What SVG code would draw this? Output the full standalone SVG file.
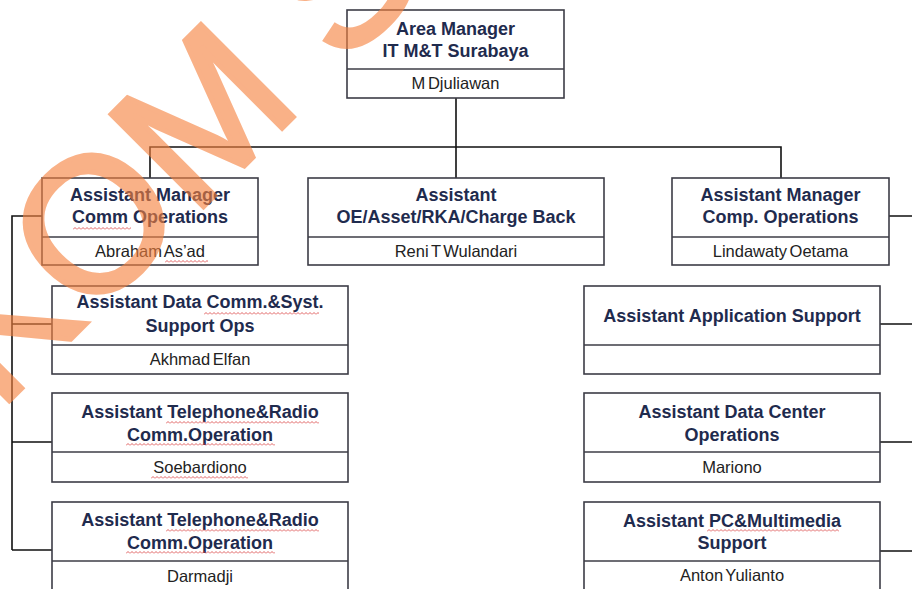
<svg xmlns="http://www.w3.org/2000/svg" width="912" height="589" viewBox="0 0 912 589">
<style>
.box{fill:#fff;stroke:#3c3c46;stroke-width:1.6}
.div{stroke:#3c3c46;stroke-width:1.6}
.t{font-family:"Liberation Sans",Arial,sans-serif;font-weight:bold;font-size:18px;fill:#1f2b4e;text-anchor:middle}
.n{font-family:"Liberation Sans",Arial,sans-serif;font-size:16.5px;fill:#222;text-anchor:middle;word-spacing:-2px}
.con{fill:none;stroke:#111;stroke-width:1.6}
.wm{font-family:"Liberation Sans",Arial,sans-serif;font-size:190px;fill:#f6823f;stroke:#f6823f;stroke-width:5;stroke-linejoin:miter;opacity:0.62}
</style>
<defs>
<pattern id="wavy" patternUnits="userSpaceOnUse" width="4" height="3">
<path d="M0,2.5 L2,0.5 L4,2.5" fill="none" stroke="#d83a3a" stroke-width="0.8"/>
</pattern>
</defs>
<rect width="912" height="589" fill="#fff"/>
<g id="connectors">
<path class="con" d="M456,98 V147 M150,178 V147 H781 V178 M456,147 V178"/>
<path class="con" d="M42,216 H12 V550 M12,324 H52 M12,442 H52 M12,550 H52"/>
<path class="con" d="M889,216 H912 M880,324 H912 M880,442 H912 M880,551 H912"/>
</g>
<g id="area-manager">
<rect class="box" x="347" y="10" width="217" height="88"/>
<line class="div" x1="347" y1="69" x2="564" y2="69"/>
<text class="t" x="455.5" y="35">Area Manager</text>
<text class="t" x="455.5" y="57">IT M&amp;T Surabaya</text>
<text class="n" x="455.5" y="89">M Djuliawan</text>
</g>
<g id="am-comm">
<rect class="box" x="42" y="178" width="216" height="87"/>
<line class="div" x1="42" y1="237" x2="258" y2="237"/>
<text class="t" x="150" y="201">Assistant Manager</text>
<text class="t" x="150" y="223">Comm Operations</text>
<text class="n" x="150" y="257">Abraham As’ad</text>
<rect transform="translate(73,227)" width="58" height="3" fill="url(#wavy)"/>
<rect transform="translate(165,260)" width="43" height="3" fill="url(#wavy)"/>
</g>
<g id="asst-oe">
<rect class="box" x="308" y="178" width="296" height="87"/>
<line class="div" x1="308" y1="237" x2="604" y2="237"/>
<text class="t" x="456" y="201">Assistant</text>
<text class="t" x="456" y="223">OE/Asset/RKA/Charge Back</text>
<text class="n" x="456" y="257">Reni T Wulandari</text>
</g>
<g id="am-comp">
<rect class="box" x="672" y="178" width="217" height="87"/>
<line class="div" x1="672" y1="237" x2="889" y2="237"/>
<text class="t" x="780.5" y="201">Assistant Manager</text>
<text class="t" x="780.5" y="223">Comp. Operations</text>
<text class="n" x="780.5" y="257">Lindawaty Oetama</text>
</g>
<g id="asst-datacomm">
<rect class="box" x="52" y="286" width="296" height="88"/>
<line class="div" x1="52" y1="345" x2="348" y2="345"/>
<text class="t" x="200" y="308">Assistant Data Comm.&amp;Syst.</text>
<text class="t" x="200" y="331.5">Support Ops</text>
<text class="n" x="200" y="365">Akhmad Elfan</text>
<rect transform="translate(204,312)" width="115" height="3" fill="url(#wavy)"/>
</g>
<g id="asst-tel1">
<rect class="box" x="52" y="393" width="296" height="89"/>
<line class="div" x1="52" y1="452" x2="348" y2="452"/>
<text class="t" x="200" y="418">Assistant Telephone&amp;Radio</text>
<text class="t" x="200" y="440.5">Comm.Operation</text>
<text class="n" x="200" y="473">Soebardiono</text>
<rect transform="translate(166,421)" width="153" height="3" fill="url(#wavy)"/>
<rect transform="translate(126,443)" width="149" height="3" fill="url(#wavy)"/>
<rect transform="translate(151,476)" width="97" height="3" fill="url(#wavy)"/>
</g>
<g id="asst-tel2">
<rect class="box" x="52" y="502" width="296" height="100"/>
<line class="div" x1="52" y1="561" x2="348" y2="561"/>
<text class="t" x="200" y="526">Assistant Telephone&amp;Radio</text>
<text class="t" x="200" y="548.5">Comm.Operation</text>
<text class="n" x="200" y="582">Darmadji</text>
<rect transform="translate(166,529)" width="153" height="3" fill="url(#wavy)"/>
<rect transform="translate(126,551)" width="149" height="3" fill="url(#wavy)"/>
</g>
<g id="asst-app">
<rect class="box" x="584" y="286" width="296" height="88"/>
<line class="div" x1="584" y1="345" x2="880" y2="345"/>
<text class="t" x="732" y="321.5">Assistant Application Support</text>
</g>
<g id="asst-dc">
<rect class="box" x="584" y="393" width="296" height="89"/>
<line class="div" x1="584" y1="452" x2="880" y2="452"/>
<text class="t" x="732" y="418">Assistant Data Center</text>
<text class="t" x="732" y="440.5">Operations</text>
<text class="n" x="732" y="473">Mariono</text>
</g>
<g id="asst-pc">
<rect class="box" x="584" y="502" width="296" height="100"/>
<line class="div" x1="584" y1="561" x2="880" y2="561"/>
<text class="t" x="732" y="526.5">Assistant PC&amp;Multimedia</text>
<text class="t" x="732" y="548.5">Support</text>
<text class="n" x="732" y="581">Anton Yulianto</text>
<rect transform="translate(707,529)" width="132" height="3" fill="url(#wavy)"/>
</g>
<g id="watermark" transform="translate(92,222) rotate(-45)">
<text class="wm" x="-496" y="68">STIKOM SURABAYA</text>
</g>
</svg>
